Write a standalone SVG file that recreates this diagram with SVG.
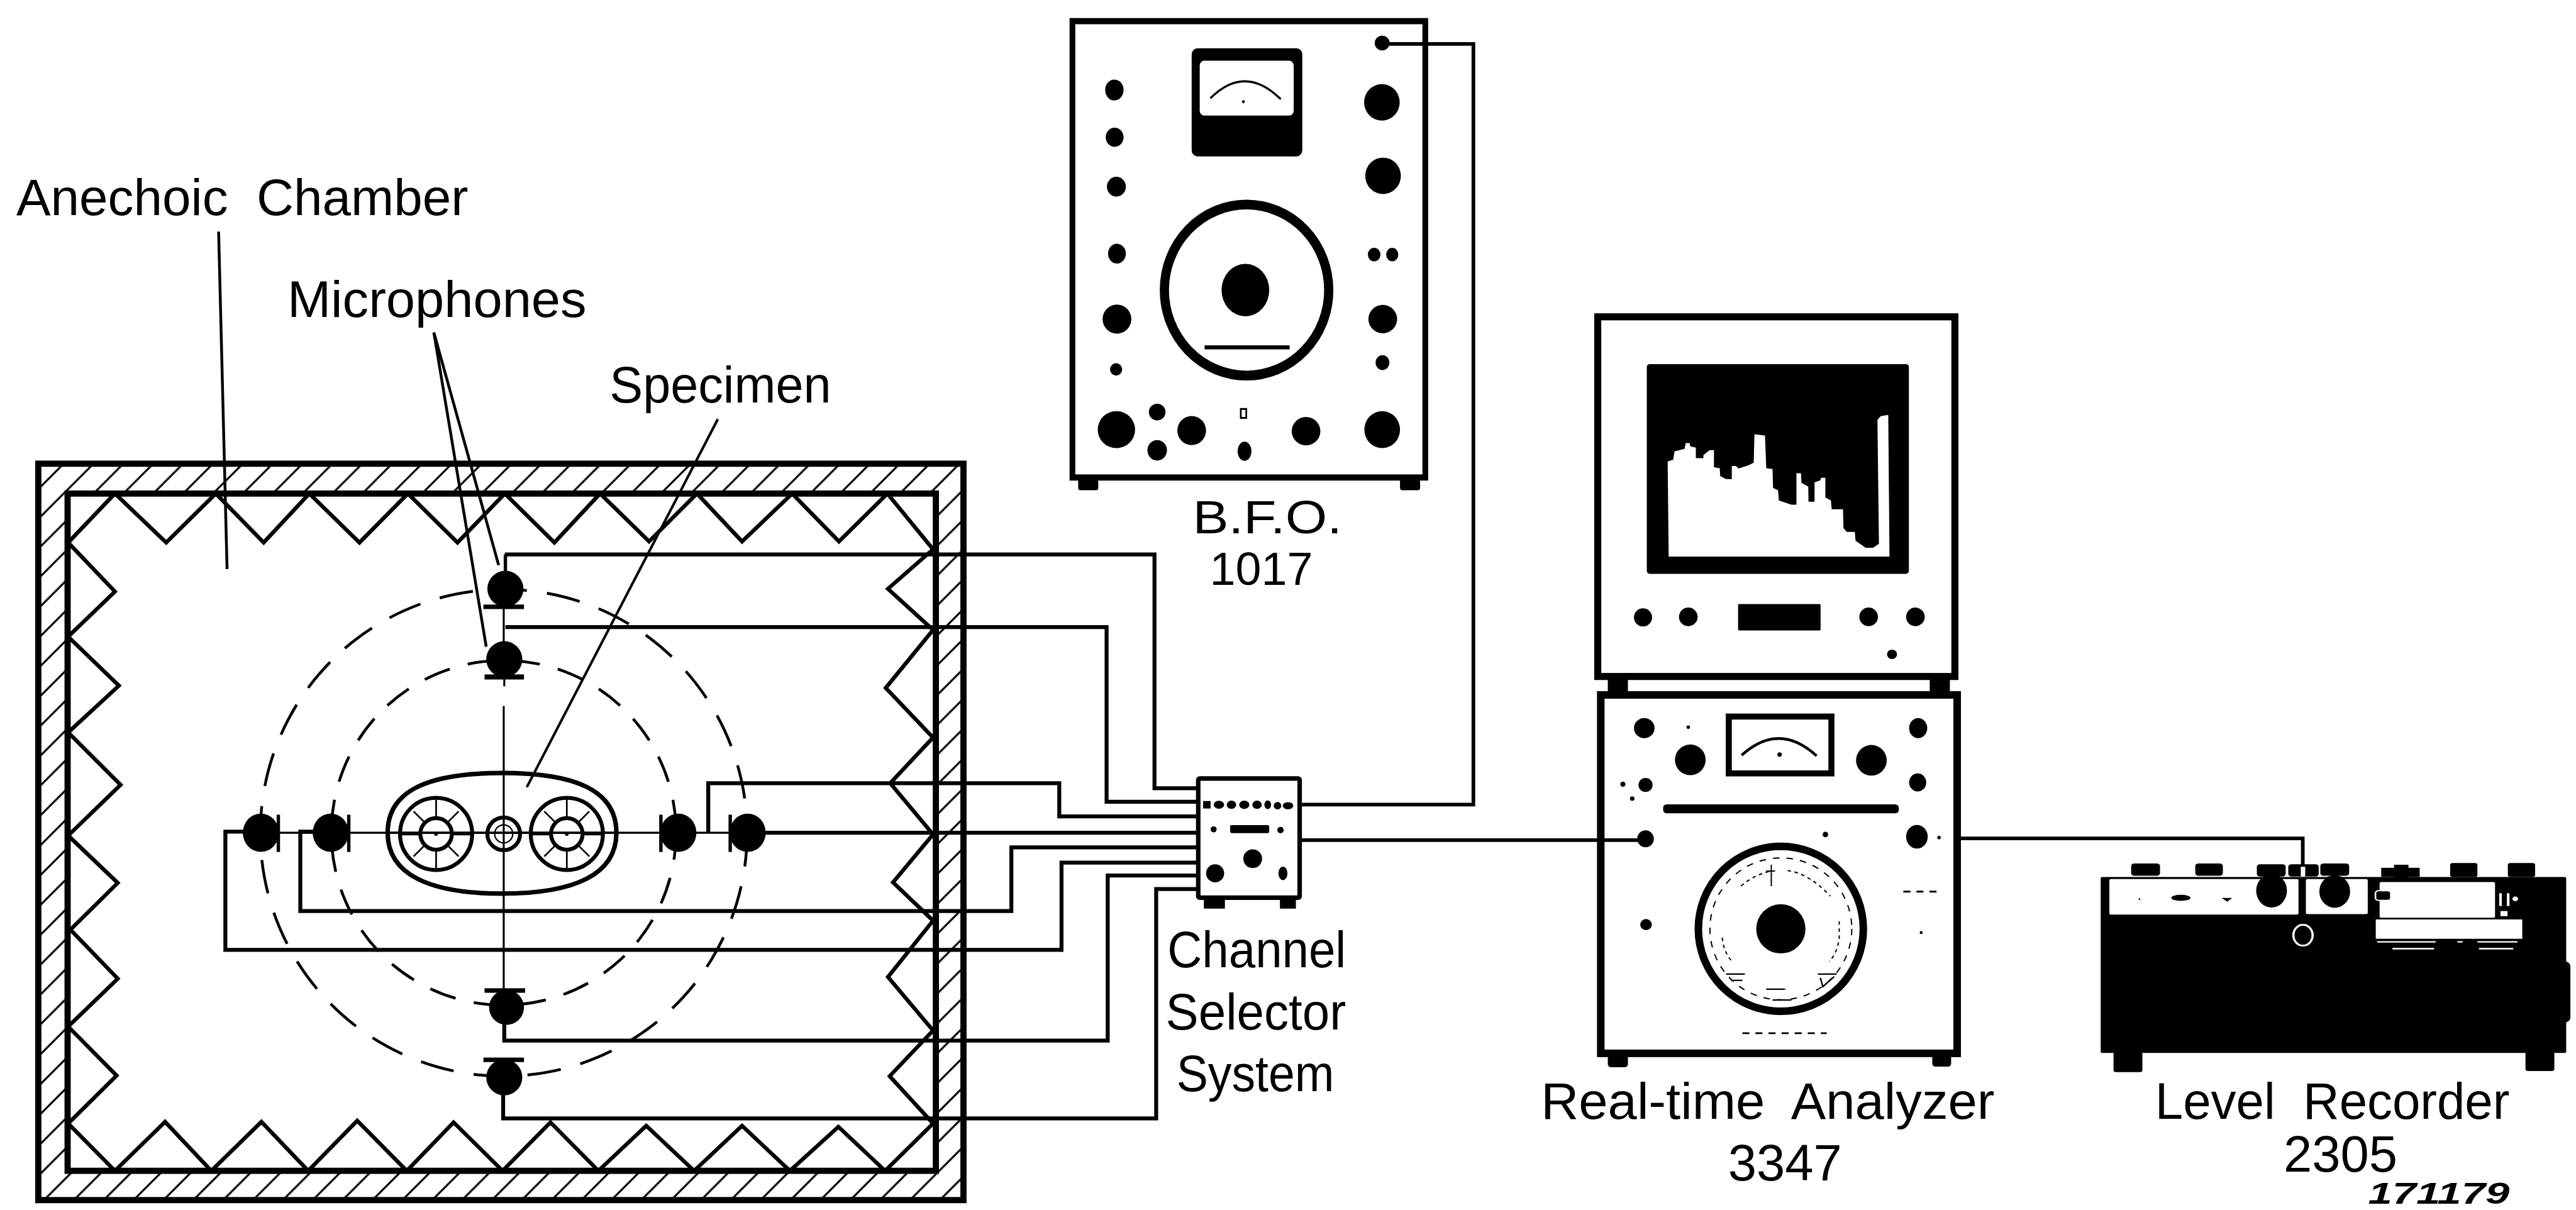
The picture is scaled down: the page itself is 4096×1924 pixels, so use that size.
<svg xmlns="http://www.w3.org/2000/svg" xmlns:xlink="http://www.w3.org/1999/xlink" width="4096" height="1924" viewBox="0 0 4096 1924">
<style>
.t{font-family:"Liberation Sans",Arial,sans-serif;font-size:91px;fill:#000;white-space:pre}
.k{fill:#000}
.w{fill:#fff}
.ln{fill:none;stroke:#000;stroke-linejoin:miter}
.wire{fill:none;stroke:#000;stroke-width:7}
.out{fill:none;stroke:#000;stroke-width:6.5}
.thin{fill:none;stroke:#000;stroke-width:4.5}
</style>
<defs>
<pattern id="hatch" patternUnits="userSpaceOnUse" width="53" height="53" patternTransform="translate(35 0)">
<path d="M-5 58L58 -5M-5 5L5 -5M48 58L58 48" stroke="#000" stroke-width="3.5" fill="none"/>
</pattern>
<g id="speaker">
<circle r="64" fill="none" stroke="#000" stroke-width="7"/>
<circle r="28" fill="none" stroke="#000" stroke-width="7"/>
<path d="M0 -28V-64M0 28V64M-40 -40L-20 -20M40 -40L20 -20M-40 40L-20 20M40 40L20 20" stroke="#000" stroke-width="3" fill="none"/>
<path d="M-64 0H-28M28 0H64" stroke="#000" stroke-width="5" fill="none"/>
<circle r="3.5" class="k"/>
</g>
</defs>
<rect width="4096" height="1924" fill="#fff"/>
<g transform="scale(0.8959)">

<g id="anechoic-chamber">
<path d="M68 823H1710V2130H68ZM120 876H1661V2078H120Z" fill="url(#hatch)" fill-rule="evenodd"/>
<rect x="68" y="823" width="1642" height="1307" class="ln" stroke-width="11"/>
<rect x="120" y="876" width="1541" height="1202" class="ln" stroke-width="11"/>
<polyline class="ln" stroke-width="7" points="121,963 204,876 295,963 383,876 468,963 549,876 638,963 724,876 812,963 896,876 984,963 1065,876 1152,961 1237,876 1317,961 1406,876 1489,961 1575,876 1656,975 1576,1045 1656,1118 1572,1221 1656,1309 1580,1390 1656,1481 1585,1566 1656,1634 1576,1734 1656,1829 1579,1910 1656,1994 1571,2078 1488,2000 1402,2078 1317,1998 1232,2078 1147,1998 1062,2078 977,1992 892,2078 805,1992 722,2078 634,1989 547,2078 464,1991 375,2078 293,1991 204,2078 121,1994 207,1909 121,1822 209,1737 125,1650 209,1567 121,1483 214,1393 121,1300 211,1217 121,1130 204,1050 121,963"/>
<circle cx="894" cy="1478" r="432" class="ln" stroke-width="5" stroke-dasharray="60 36"/>
<circle cx="894" cy="1478" r="306" class="ln" stroke-width="5" stroke-dasharray="48 33"/>
</g>

<g id="specimen">
<path d="M688 1478C688 1402 762 1372 891 1372C1020 1372 1094 1402 1094 1478C1094 1552 1020 1586 891 1586C762 1586 688 1552 688 1478Z" class="ln" stroke-width="8"/>
<use xlink:href="#speaker" href="#speaker" x="774" y="1480"/>
<use xlink:href="#speaker" href="#speaker" x="1006" y="1480"/>
<circle cx="894" cy="1480" r="29" class="ln" stroke-width="7"/>
<circle cx="894" cy="1480" r="16" class="ln" stroke-width="2.5"/>
</g>

<g id="mic-top-outer"><circle cx="897" cy="1045" r="32" class="k"/><rect x="858" y="1073" width="72" height="8" class="k"/><path d="M883 1072H911L897 1050Z" class="k"/><path class="ln" stroke-width="6" d="M897 1014V984"/></g>
<g id="mic-top-inner"><circle cx="895" cy="1170" r="32" class="k"/><rect x="860" y="1197" width="70" height="9" class="k"/><path d="M881 1196H909L895 1175Z" class="k"/></g>
<g id="mic-bottom-inner"><circle cx="899" cy="1788" r="31" class="k"/><rect x="860" y="1754" width="72" height="8" class="k"/><path d="M883 1762H915L899 1782Z" class="k"/></g>
<g id="mic-bottom-outer"><circle cx="895" cy="1912" r="32" class="k"/><rect x="858" y="1877" width="72" height="8" class="k"/><path d="M879 1885H911L895 1905Z" class="k"/></g>
<g id="mic-left-outer"><ellipse cx="463" cy="1478" rx="32" ry="34" class="k"/><rect x="491" y="1446" width="6" height="66" class="k"/></g>
<g id="mic-left-inner"><ellipse cx="587" cy="1478" rx="32" ry="34" class="k"/><rect x="616" y="1446" width="6" height="66" class="k"/></g>
<g id="mic-right-inner"><ellipse cx="1204" cy="1478" rx="32" ry="34" class="k"/><rect x="1170" y="1446" width="6" height="66" class="k"/></g>
<g id="mic-right-outer"><ellipse cx="1327" cy="1478" rx="32" ry="34" class="k"/><rect x="1293" y="1446" width="6" height="66" class="k"/></g>

<g id="channel-selector" transform="translate(2050 1340) scale(.3333)">
<rect x="230" y="125" width="540" height="635" rx="8" class="w" stroke="#000" stroke-width="24"/>
<rect x="260" y="770" width="112" height="48" class="k"/><rect x="665" y="770" width="85" height="48" class="k"/>
<rect x="256" y="245" width="40" height="40" class="k"/>
<ellipse cx="340" cy="265" rx="28" ry="21" class="k"/><ellipse cx="407" cy="265" rx="25" ry="22" class="k"/><ellipse cx="475" cy="265" rx="27" ry="22" class="k"/><ellipse cx="543" cy="265" rx="25" ry="22" class="k"/><ellipse cx="600" cy="265" rx="18" ry="23" class="k"/><ellipse cx="652" cy="270" rx="20" ry="20" class="k"/><ellipse cx="708" cy="270" rx="28" ry="19" class="k"/>
<rect x="400" y="373" width="208" height="43" rx="8" class="k"/>
<circle cx="312" cy="396" r="16" class="k"/><circle cx="668" cy="400" r="17" class="k"/>
<circle cx="520" cy="552" r="50" class="k"/><circle cx="320" cy="630" r="48" class="k"/>
<ellipse cx="681" cy="630" rx="24" ry="36" class="k"/>
</g>

<g id="bfo-1017" transform="translate(1860 20) scale(.51 .548)">
<rect x="85" y="32" width="1228" height="1478" class="w" stroke="#000" stroke-width="20"/>
<rect x="105" y="1515" width="70" height="36" rx="8" class="k"/><rect x="1225" y="1515" width="70" height="36" rx="8" class="k"/>
<rect x="500" y="120" width="385" height="350" rx="20" class="k"/>
<rect x="528" y="160" width="327" height="178" rx="16" class="w"/>
<path d="M565 282Q685 170 810 285" class="ln" stroke-width="7"/><circle cx="680" cy="293" r="5" class="k"/>
<ellipse cx="231" cy="255" rx="32" ry="34" class="k"/><ellipse cx="232" cy="408" rx="31" ry="31" class="k"/><ellipse cx="238" cy="568" rx="33" ry="32" class="k"/><ellipse cx="240" cy="785" rx="31" ry="32" class="k"/><ellipse cx="240" cy="997" rx="50" ry="47" class="k"/><ellipse cx="237" cy="1160" rx="21" ry="20" class="k"/><ellipse cx="238" cy="1355" rx="65" ry="60" class="k"/><ellipse cx="380" cy="1298" rx="29" ry="27" class="k"/><ellipse cx="380" cy="1422" rx="34" ry="33" class="k"/><ellipse cx="500" cy="1358" rx="50" ry="47" class="k"/><ellipse cx="684" cy="1425" rx="24" ry="31" class="k"/>
<rect x="671" y="1288" width="19" height="29" class="w" stroke="#000" stroke-width="6"/>
<ellipse cx="898" cy="1360" rx="50" ry="46" class="k"/><ellipse cx="1163" cy="1355" rx="62" ry="60" class="k"/><ellipse cx="1164" cy="1138" rx="24" ry="24" class="k"/><ellipse cx="1165" cy="997" rx="50" ry="46" class="k"/><ellipse cx="1135" cy="788" rx="22" ry="22" class="k"/><ellipse cx="1198" cy="788" rx="21" ry="22" class="k"/><ellipse cx="1166" cy="533" rx="62" ry="59" class="k"/><ellipse cx="1162" cy="295" rx="62" ry="59" class="k"/><ellipse cx="1163" cy="103" rx="26" ry="24" class="k"/>
<ellipse cx="691" cy="903" rx="286" ry="277" class="ln" stroke-width="32"/>
<ellipse cx="687" cy="903" rx="83" ry="85" class="k"/>
<rect x="545" y="1082" width="296" height="13" class="k"/>
</g>

<g id="realtime-analyzer-display" transform="translate(2800 540) scale(.4464)">
<rect x="120" y="1480" width="80" height="70" class="k"/><rect x="1400" y="1480" width="80" height="70" class="k"/>
<rect x="80" y="50" width="1420" height="1430" class="w" stroke="#000" stroke-width="28"/>
<rect x="275" y="238" width="1042" height="834" rx="12" class="k"/>
<polygon class="w" points="362,1003 358,625 380,618 385,585 425,575 430,552 445,552 448,565 470,570 470,612 500,612 500,600 525,580 542,580 542,648 565,652 567,683 590,695 613,695 613,643 630,643 640,653 680,640 700,630 703,517 745,522 750,652 775,655 777,730 797,740 800,780 850,797 870,797 870,672 888,672 890,710 917,725 918,785 942,785 942,708 965,700 968,690 985,690 985,768 1007,780 1010,815 1055,815 1057,890 1070,905 1102,905 1105,940 1145,968 1175,968 1198,952 1192,460 1205,445 1235,440 1240,1003"/>
<circle cx="260" cy="1245" r="36" class="k"/><circle cx="440" cy="1243" r="37" class="k"/>
<rect x="638" y="1192" width="328" height="105" rx="4" class="k"/>
<circle cx="1157" cy="1243" r="37" class="k"/><circle cx="1343" cy="1243" r="37" class="k"/>
<ellipse cx="1250" cy="1392" rx="20" ry="19" class="k"/>
</g>

<g id="realtime-analyzer-main" transform="translate(2800 1220) scale(.4464)">
<rect x="120" y="1460" width="80" height="50" rx="12" class="k"/><rect x="1410" y="1460" width="75" height="48" rx="12" class="k"/>
<rect x="92" y="30" width="1417" height="1425" class="w" stroke="#000" stroke-width="30"/>
<ellipse cx="265" cy="162" rx="41" ry="40" class="k"/><circle cx="448" cy="288" r="61" class="k"/><circle cx="270" cy="388" r="28" class="k"/><circle cx="1168" cy="290" r="61" class="k"/><ellipse cx="1354" cy="162" rx="36" ry="40" class="k"/><ellipse cx="1352" cy="378" rx="34" ry="36" class="k"/><ellipse cx="1349" cy="594" rx="43" ry="47" class="k"/><ellipse cx="270" cy="602" rx="33" ry="34" class="k"/><ellipse cx="272" cy="943" rx="23" ry="22" class="k"/><circle cx="180" cy="385" r="10" class="k"/><circle cx="217" cy="442" r="9" class="k"/><circle cx="440" cy="158" r="7" class="k"/><circle cx="985" cy="585" r="11" class="k"/><circle cx="1437" cy="597" r="7" class="k"/>
<rect x="601" y="116" width="408" height="226" class="w" stroke="#000" stroke-width="24"/>
<path d="M652 270Q800 135 950 272" class="ln" stroke-width="11"/><circle cx="803" cy="267" r="9" class="k"/>
<rect x="340" y="465" width="937" height="36" rx="14" class="k"/>
<circle cx="808" cy="960" r="328" class="ln" stroke-width="30"/>
<circle cx="808" cy="960" r="98" class="k"/>
<circle cx="808" cy="960" r="282" class="ln" stroke-width="5" stroke-dasharray="26 28"/>
<path d="M575 995Q580 1050 610 1085M650 790Q700 745 770 730M835 728Q920 740 1005 830M1040 930V1000Q1030 1060 1000 1090" class="ln" stroke-width="5" stroke-dasharray="14 14"/>
<path d="M770 705V790M750 730H785" class="ln" stroke-width="5"/>
<path d="M590 1140H665M610 1165H655M750 1200H825M775 1243H850M955 1140H1030M965 1155L975 1190L1020 1150" class="ln" stroke-width="6"/>
<path d="M1295 812H1440M655 1375H990" class="ln" stroke-width="7" stroke-dasharray="28 24"/>
<circle cx="1366" cy="975" r="6" class="k"/>
</g>

<g id="connectors">
<path class="wire" d="M896 984H2049V1399H2123"/>
<path class="wire" d="M897 1113H1964V1423H2123"/>
<path class="wire" d="M1257 1478V1390H1880V1449H2123"/>
<path class="wire" d="M1327 1478H2123"/>
<path class="wire" d="M587 1476H533V1617H1795V1504H2123"/>
<path class="wire" d="M463 1476H400V1686H1884V1531H2123"/>
<path class="wire" d="M895 1788V1847H1966V1554H2123"/>
<path class="wire" d="M893 1912V1985H2052V1578H2123"/>
<path class="out" d="M2307 1428H2615V78H2453"/>
<path class="out" d="M2307 1491H2920"/>
<path class="out" d="M3475 1488H4087V1535"/>
<path class="thin" d="M494 1478H587M619 1478H686M1096 1478H1173M1204 1478H1327" style="stroke-width:3.5"/>
<path class="thin" d="M686 1478H1096" style="stroke-width:4"/>
<path class="thin" d="M894 1253V1758M894 1077V1140M895 1201V1218" style="stroke-width:3.5"/>
<path class="thin" d="M388 411L403 1010" style="stroke-width:5"/>
<path class="thin" d="M885 1003L770 590L863 1148" style="stroke-width:5"/>
<path class="thin" d="M1274 744L935 1397"/>
</g>

<g id="level-recorder" transform="translate(3680 1440) scale(.569 .4515)">
<rect x="125" y="945" width="90" height="80" rx="8" class="k"/><rect x="1410" y="945" width="90" height="76" rx="8" class="k"/>
<rect x="85" y="258" width="1452" height="692" rx="6" class="k"/>
<rect x="1500" y="590" width="50" height="240" rx="18" class="k"/>
<rect x="180" y="205" width="90" height="48" rx="10" class="k"/><rect x="380" y="205" width="86" height="48" rx="10" class="k"/><rect x="572" y="208" width="90" height="48" rx="10" class="k"/><rect x="670" y="208" width="95" height="48" rx="10" class="k"/><rect x="770" y="205" width="90" height="48" rx="10" class="k"/><rect x="1000" y="210" width="45" height="50" class="k"/><rect x="960" y="222" width="120" height="36" class="k"/><rect x="1175" y="203" width="85" height="55" rx="8" class="k"/><rect x="1355" y="203" width="85" height="55" rx="8" class="k"/>
<rect x="112" y="266" width="590" height="140" rx="5" class="w"/><rect x="725" y="266" width="193" height="138" rx="5" class="w"/>
<rect x="955" y="278" width="360" height="140" rx="5" class="w"/><rect x="943" y="425" width="457" height="76" class="w"/>
<ellipse cx="618" cy="312" rx="48" ry="66" class="k"/><ellipse cx="815" cy="315" rx="48" ry="64" class="k"/>
<ellipse cx="335" cy="340" rx="30" ry="12" class="k"/><path d="M462 340H495L480 355Z" class="k"/><circle cx="206" cy="345" r="3" class="k"/>
<rect x="942" y="312" width="48" height="38" rx="10" class="k" stroke="#fff" stroke-width="5"/>
<rect x="1328" y="322" width="8" height="50" class="w"/><rect x="1352" y="322" width="8" height="50" class="w"/><circle cx="1378" cy="344" r="9" class="w"/><rect x="1332" y="392" width="22" height="20" class="w"/>
<rect x="709" y="218" width="14" height="38" class="w"/>
<ellipse cx="716" cy="487" rx="30" ry="41" fill="none" stroke="#fff" stroke-width="7"/>
<path d="M947 513H1130M1260 513H1385M995 540H1125M1265 540H1372M1198 513H1214" stroke="#fff" stroke-width="6" fill="none"/>
</g>

<g id="labels">
<text class="t" x="29" y="382" textLength="802" lengthAdjust="spacingAndGlyphs">Anechoic  Chamber</text>
<text class="t" x="510" y="563" textLength="531" lengthAdjust="spacingAndGlyphs">Microphones</text>
<text class="t" x="1082" y="714" textLength="393" lengthAdjust="spacingAndGlyphs">Specimen</text>
<text class="t" x="2117" y="946" textLength="265" lengthAdjust="spacingAndGlyphs" style="font-size:82px">B.F.O.</text>
<text class="t" x="2147" y="1038" textLength="183" lengthAdjust="spacingAndGlyphs" style="font-size:82px">1017</text>
<text class="t" x="2072" y="1717" textLength="317" lengthAdjust="spacingAndGlyphs">Channel</text>
<text class="t" x="2069" y="1827" textLength="320" lengthAdjust="spacingAndGlyphs">Selector</text>
<text class="t" x="2088" y="1937" textLength="280" lengthAdjust="spacingAndGlyphs">System</text>
<text class="t" x="2735" y="1986" textLength="805" lengthAdjust="spacingAndGlyphs">Real-time  Analyzer</text>
<text class="t" x="3067" y="2095" textLength="202" lengthAdjust="spacingAndGlyphs">3347</text>
<text class="t" x="3825" y="1986" textLength="629" lengthAdjust="spacingAndGlyphs">Level  Recorder</text>
<text class="t" x="4053" y="2079" textLength="202" lengthAdjust="spacingAndGlyphs">2305</text>
<text class="t" x="4203" y="2136" textLength="251" lengthAdjust="spacingAndGlyphs" style="font-size:54px;font-style:italic;font-weight:bold">171179</text>
</g>
</g>
</svg>
